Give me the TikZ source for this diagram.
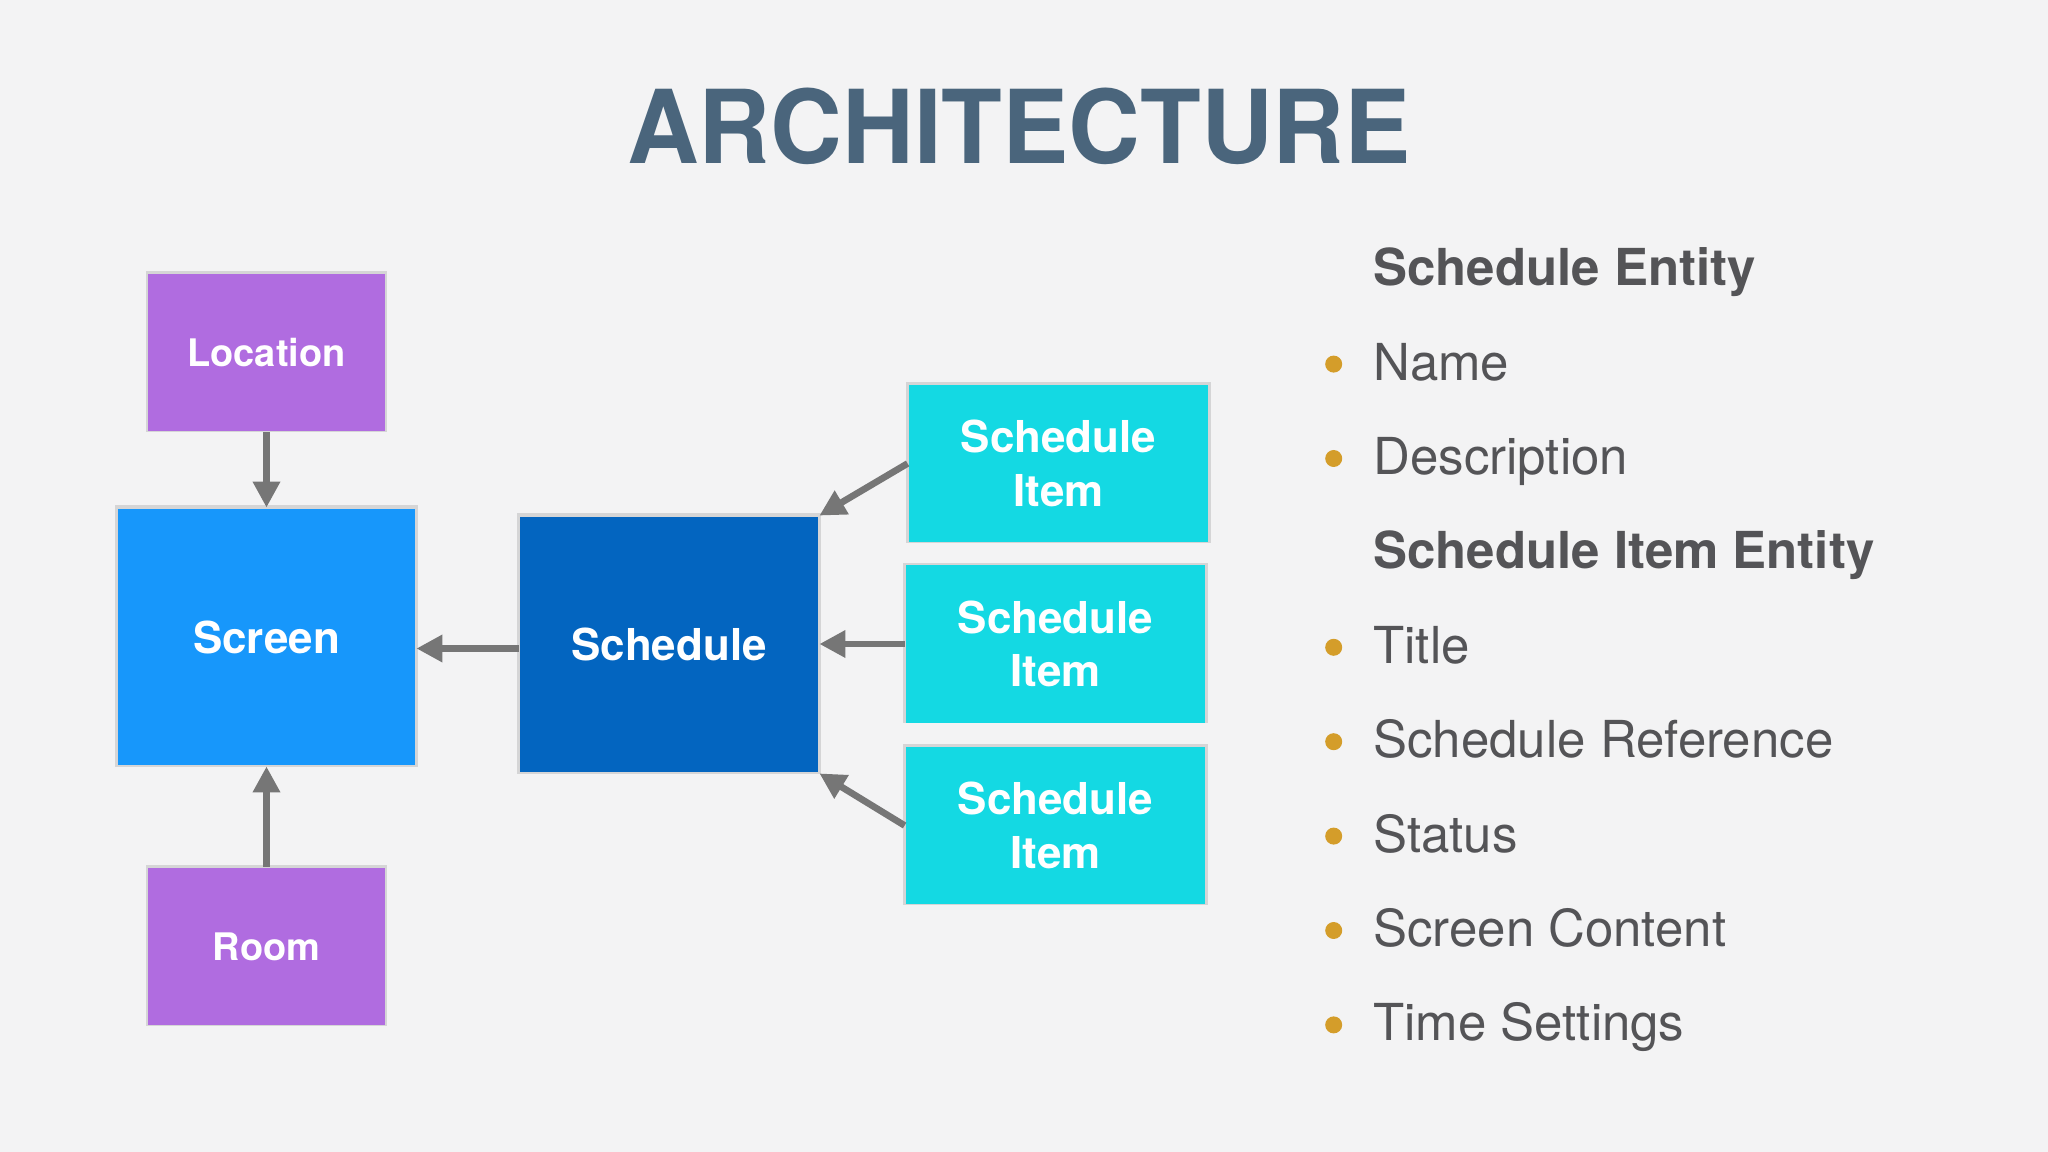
\documentclass[tikz,border=0pt]{standalone}
\usepackage{fontspec}
\setmainfont{TeX Gyre Heros}
\usetikzlibrary{arrows.meta,shadows}
\definecolor{bgcol}{HTML}{F3F3F4}
\definecolor{titlecol}{HTML}{4A657C}
\definecolor{placecol}{HTML}{B06CE0}
\definecolor{screencol}{HTML}{1797FB}
\definecolor{schedcol}{HTML}{0365C0}
\definecolor{itemcol}{HTML}{14D9E3}
\definecolor{textcol}{HTML}{545457}
\definecolor{bulletcol}{HTML}{D49D2A}
\definecolor{arrowcol}{HTML}{767676}
\tikzset{
	boxshadow/.style = {general shadow={fill=black, opacity=0.12,
		shadow scale=1.02, shadow yshift=0.1mm}},
	place/.style   = {rectangle, fill=placecol, boxshadow, text=white,
		minimum width=2.37cm, minimum height=1.57cm,
		font=\fontsize{10.8}{13}\selectfont\bfseries},
	bigbox/.style  = {rectangle, boxshadow, text=white,
		minimum width=2.97cm, minimum height=2.56cm,
		font=\fontsize{12.5}{15.2}\selectfont\bfseries},
	item/.style    = {rectangle, fill=itemcol, boxshadow, text=white, align=center,
		minimum width=2.99cm, minimum height=1.57cm,
		font=\fontsize{12.5}{15.2}\selectfont\bfseries},
	heading/.style = {anchor=base west, inner sep=0, text=textcol,
		font=\fontsize{14.5}{17}\selectfont\bfseries},
	entry/.style   = {anchor=base west, inner sep=0, text=textcol,
		font=\fontsize{14.5}{17}\selectfont},
	bullet/.style  = {circle, fill=bulletcol, inner sep=0, minimum size=0.17cm},
	link/.style    = {->, arrowcol, line width=1.9pt}
}

\begin{document}
\begin{tikzpicture}[thick, >={Triangle[length=2.6mm,width=2.6mm]}]
	\fill[bgcol] (0,0) rectangle (20.48,-11.52);
	\useasboundingbox (0,0) rectangle (20.48,-11.52);

	\draw
	node at (10.19,-1.633)[anchor=base, text=titlecol, xscale=0.975,
		font=\fontsize{29}{34}\selectfont\bfseries] (title) {ARCHITECTURE}
	node at (2.665,-3.525)[place] (loc) {Location}
	node at (2.665,-6.37)[bigbox, fill=screencol] (screen) {Screen}
	node at (2.665,-9.465)[place] (room) {Room}
	node at (6.69,-6.445)[bigbox, fill=schedcol, minimum width=2.98cm,
		minimum height=2.55cm] (sched) {Schedule}
	node at (10.585,-4.635)[item] (item1) {Schedule\\Item}
	node at (10.555,-6.44)[item] (item2) {Schedule\\Item}
	node at (10.555,-8.255)[item] (item3) {Schedule\\Item};

	% connectors
	\draw[link](loc) -- (screen);
	\draw[link](room) -- (screen);
	\draw[link]([yshift=-0.04cm]sched.west) -- ([yshift=-0.04cm]sched.west -| screen.east);
	\draw[link](item1.west) -- (sched.north east);
	\draw[link](item2.west) -- (item2.west -| sched.east);
	\draw[link](item3.west) -- (sched.south east);

	% entity lists
	\draw
	node at (13.72,-2.857)[heading] (h1) {Schedule Entity}
	node at (13.72,-3.801)[entry] (e1) {Name}
	node at (13.72,-4.745)[entry] (e2) {Description}
	node at (13.72,-5.689)[heading] (h2) {Schedule Item Entity}
	node at (13.72,-6.633)[entry] (e3) {Title}
	node at (13.72,-7.577)[entry] (e4) {Schedule Reference}
	node at (13.72,-8.521)[entry] (e5) {Status}
	node at (13.72,-9.465)[entry] (e6) {Screen Content}
	node at (13.72,-10.409)[entry] (e7) {Time Settings};

	\draw
	node at (13.337,-3.641)[bullet] (b1) {}
	node at (13.337,-4.585)[bullet] (b2) {}
	node at (13.337,-6.473)[bullet] (b3) {}
	node at (13.337,-7.417)[bullet] (b4) {}
	node at (13.337,-8.361)[bullet] (b5) {}
	node at (13.337,-9.305)[bullet] (b6) {}
	node at (13.337,-10.249)[bullet] (b7) {};
\end{tikzpicture}
\end{document}
